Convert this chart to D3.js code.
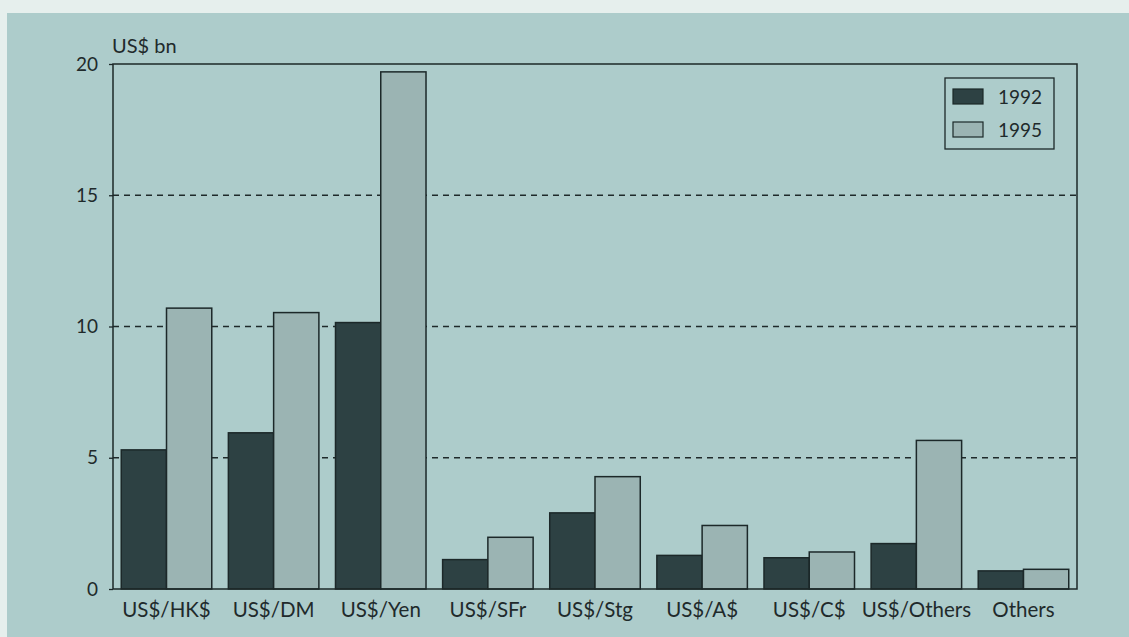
<!DOCTYPE html>
<html>
<head>
<meta charset="utf-8">
<script src="https://cdn.jsdelivr.net/npm/d3@7"></script>
<style>
  body { margin: 0; background: #e6efed; }
  svg { display: block; }
  text { font-family: Lato, "Open Sans", sans-serif; fill: #1f2a2b; }
</style>
</head>
<body>
<div id="chart"></div>
<script>
// data (US$ bn)
const CATEGORIES = ["US$/HK$", "US$/DM", "US$/Yen", "US$/SFr", "US$/Stg",
                    "US$/A$", "US$/C$", "US$/Others", "Others"];
const SERIES = ["1992", "1995"];
const VALUES_1992 = [5.3, 5.95, 10.15, 1.12, 2.9, 1.28, 1.19, 1.73, 0.69];
const VALUES_1995 = [10.7, 10.53, 19.7, 1.97, 4.28, 2.42, 1.41, 5.66, 0.75];
const Y_TICKS = [0, 5, 10, 15, 20];

const WIDTH = 1129;
const HEIGHT = 637;
const MARGINS = {left: 113, right: 52, top: 64, bottom: 48};
const COLORS = {"1992": "#2d4143", "1995": "#9bb4b3"};

const svg = d3.select("#chart")
  .append("svg")
    .attr("width", WIDTH)
    .attr("height", HEIGHT);

// page background (scan edge + teal panel)
svg.append("rect")
    .attr("x", 7).attr("y", 13)
    .attr("width", WIDTH - 7).attr("height", HEIGHT - 13)
    .attr("fill", "#adcccb");

const x0 = d3.scaleBand()
  .domain(CATEGORIES)
  .range([MARGINS.left, WIDTH - MARGINS.right])
  .paddingInner(0.155)
  .paddingOuter(0.077);

const x1 = d3.scaleBand()
  .domain(SERIES)
  .range([0, x0.bandwidth()]);

const y = d3.scaleLinear()
  .domain([0, 20])
  .range([HEIGHT - MARGINS.bottom, MARGINS.top]);

// dashed gridlines
svg.selectAll(".grid")
  .data(Y_TICKS.filter((d) => d > 0 && d < 20))
  .enter()
  .append("line")
    .attr("x1", MARGINS.left)
    .attr("x2", WIDTH - MARGINS.right)
    .attr("y1", (d) => y(d))
    .attr("y2", (d) => y(d))
    .attr("stroke", "#1f2a2b")
    .attr("stroke-width", 1.3)
    .attr("stroke-dasharray", "6,5");

// bars
const rows = CATEGORIES.map((c, i) => ({cat: c, vals: [VALUES_1992[i], VALUES_1995[i]]}));

const groups = svg.selectAll(".group")
  .data(rows)
  .enter()
  .append("g")
    .attr("transform", (d) => "translate(" + x0(d.cat) + ",0)");

groups.selectAll("rect")
  .data((d) => SERIES.map((s, j) => ({key: s, value: d.vals[j]})))
  .enter()
  .append("rect")
    .attr("x", (d) => x1(d.key))
    .attr("y", (d) => y(d.value))
    .attr("width", x1.bandwidth())
    .attr("height", (d) => y(0) - y(d.value))
    .attr("fill", (d) => COLORS[d.key])
    .attr("stroke", "#1c2829")
    .attr("stroke-width", 1.5);

// frame
svg.append("rect")
    .attr("x", MARGINS.left)
    .attr("y", MARGINS.top)
    .attr("width", WIDTH - MARGINS.left - MARGINS.right)
    .attr("height", HEIGHT - MARGINS.top - MARGINS.bottom)
    .attr("fill", "none")
    .attr("stroke", "#1c2829")
    .attr("stroke-width", 1.5);

// y axis
const yAxis = svg.append("g")
    .attr("transform", "translate(" + MARGINS.left + ",0)")
    .call(d3.axisLeft(y).tickValues(Y_TICKS).tickSize(4).tickPadding(11));
yAxis.select(".domain").remove();
yAxis.selectAll("line").attr("stroke", "#1c2829").attr("stroke-width", 1.3);
yAxis.selectAll("text")
    .style("font-family", "Lato, sans-serif")
    .style("font-size", "19px")
    .attr("fill", "#1f2a2b");

// x axis labels
const xAxis = svg.append("g")
    .attr("transform", "translate(0," + (HEIGHT - MARGINS.bottom) + ")")
    .call(d3.axisBottom(x0).tickSize(0).tickPadding(13));
xAxis.select(".domain").remove();
xAxis.selectAll("text")
    .style("font-family", "Lato, sans-serif")
    .style("font-size", "20.5px")
    .attr("fill", "#1f2a2b");

// unit label
svg.append("text")
    .attr("x", 112)
    .attr("y", 53)
    .style("font-size", "20px")
    .text("US$ bn");

// legend
const legend = svg.append("g").attr("transform", "translate(945,78)");
legend.append("rect")
    .attr("width", 109).attr("height", 71)
    .attr("fill", "none")
    .attr("stroke", "#1c2829")
    .attr("stroke-width", 1.3);

const items = legend.selectAll(".item")
  .data(SERIES)
  .enter()
  .append("g")
    .attr("transform", (d, i) => "translate(8," + (11 + i * 33) + ")");
items.append("rect")
    .attr("width", 30).attr("height", 15)
    .attr("fill", (d) => COLORS[d])
    .attr("stroke", "#1c2829")
    .attr("stroke-width", 1.2);
items.append("text")
    .attr("x", 45)
    .attr("y", 15)
    .style("font-size", "19px")
    .text((d) => d);
</script>
</body>
</html>
